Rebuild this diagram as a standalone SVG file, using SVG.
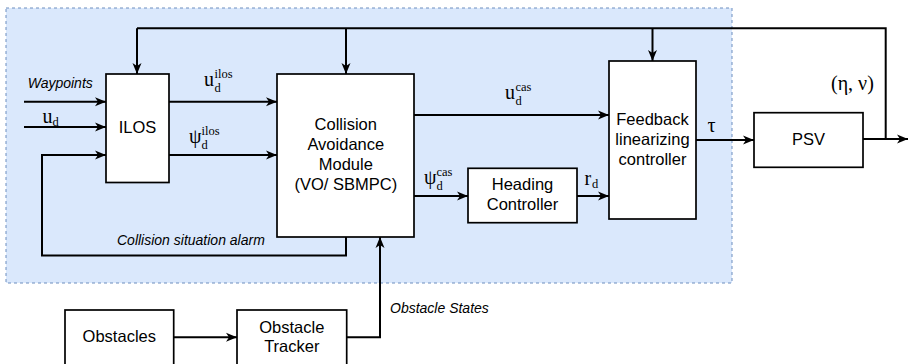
<svg xmlns="http://www.w3.org/2000/svg" width="909" height="364" viewBox="0 0 909 364">
<style>
.box{fill:#ffffff;stroke:#000000;stroke-width:1.7}
.lbl{font-family:"Liberation Sans",Arial,sans-serif;font-size:16.5px;fill:#000;text-anchor:middle}
.it{font-family:"Liberation Sans",Arial,sans-serif;font-size:14px;font-style:italic;fill:#000}
.m{font-family:"Liberation Serif","Times New Roman",serif;font-size:20px;fill:#000}
.s{font-family:"Liberation Serif","Times New Roman",serif;font-size:12.5px;fill:#000}
.c{fill:none;stroke:#000;stroke-width:2}
.a{fill:none;stroke:#000;stroke-width:2;marker-end:url(#arr)}
</style>
<defs>
<marker id="arr" markerUnits="userSpaceOnUse" markerWidth="12" markerHeight="10" refX="11" refY="5" orient="auto">
<path d="M0,0.5 L11,5 L0,9.5 L3,5 Z" fill="#000"/>
</marker>
</defs>
<rect x="6" y="8" width="726" height="275" fill="#dae8fc" stroke="#6c8ebf" stroke-width="1" stroke-dasharray="3,3"/>
<g id="connectors">
<path class="a" d="M24,101.7 H106"/>
<path class="a" d="M24,127 H106"/>
<path class="a" d="M346,237 V255.5 H42 V155 H106"/>
<path class="a" d="M169,101.7 H277"/>
<path class="a" d="M169,155 H277"/>
<path class="a" d="M414,115 H609"/>
<path class="a" d="M414,196 H468"/>
<path class="a" d="M577,196 H609"/>
<path class="a" d="M696,140 H754"/>
<path class="a" d="M863,139 H908"/>
<path class="c" d="M885.7,139 V28.3 H137"/>
<path class="a" d="M137,28.3 V74"/>
<path class="a" d="M346,28.3 V74"/>
<path class="a" d="M652.5,28.3 V61"/>
<path class="a" d="M174,337.3 H237"/>
<path class="a" d="M346.7,337.3 H380 V237"/>
</g>
<g id="labels">
<text class="it" x="27.7" y="88">Waypoints</text>
<text class="m" x="42.5" y="123">u</text><text class="s" x="52.5" y="126">d</text>
<text class="m" x="204" y="86">u</text><text class="s" x="214.5" y="77.5">ilos</text><text class="s" x="214.5" y="91.5">d</text>
<text class="m" x="189" y="143">ψ</text><text class="s" x="201.5" y="134.5">ilos</text><text class="s" x="201.5" y="148.5">d</text>
<text class="m" x="505" y="99">u</text><text class="s" x="515.5" y="90.5">cas</text><text class="s" x="515.5" y="104.5">d</text>
<text class="m" x="424" y="184">ψ</text><text class="s" x="436.5" y="175.5">cas</text><text class="s" x="436.5" y="189.5">d</text>
<text class="m" x="584.5" y="185">r</text><text class="s" x="592" y="188">d</text>
<text class="m" x="707.5" y="132">τ</text>
<text class="m" x="831" y="90">(η, ν)</text>
<text class="it" x="117" y="245">Collision situation alarm</text>
<text class="it" x="390" y="313">Obstacle States</text>
</g>
<g id="ilos">
<rect class="box" x="106" y="74" width="63" height="108.5"/>
<text class="lbl" x="137.5" y="133">ILOS</text>
</g>
<g id="cam">
<rect class="box" x="277" y="74" width="137" height="163"/>
<text class="lbl" x="345.8" y="130">Collision</text>
<text class="lbl" x="345.8" y="150">Avoidance</text>
<text class="lbl" x="345.8" y="170">Module</text>
<text class="lbl" x="345.8" y="190">(VO/ SBMPC)</text>
</g>
<g id="feedback">
<rect class="box" x="609" y="61" width="87" height="158"/>
<text class="lbl" x="652.5" y="124.5">Feedback</text>
<text class="lbl" x="652.5" y="144.5">linearizing</text>
<text class="lbl" x="652.5" y="164.5">controller</text>
</g>
<g id="heading">
<rect class="box" x="468" y="168.3" width="109" height="54.4"/>
<text class="lbl" x="522.5" y="190">Heading</text>
<text class="lbl" x="522.5" y="210">Controller</text>
</g>
<g id="psv">
<rect class="box" x="754" y="112.7" width="109" height="54.6"/>
<text class="lbl" x="808.5" y="145">PSV</text>
</g>
<g id="obstacles">
<rect class="box" x="65" y="310" width="108.7" height="55"/>
<text class="lbl" x="119.3" y="341.7">Obstacles</text>
</g>
<g id="tracker">
<rect class="box" x="237" y="310" width="109.7" height="55"/>
<text class="lbl" x="291.8" y="332.7">Obstacle</text>
<text class="lbl" x="291.8" y="351.7">Tracker</text>
</g>
</svg>
